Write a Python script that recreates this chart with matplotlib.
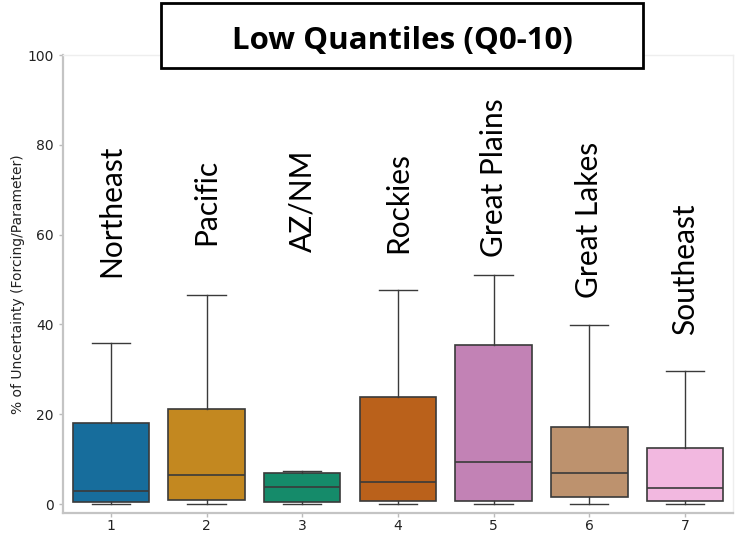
import colorsys

import matplotlib

matplotlib.use("Agg")
import matplotlib.pyplot as plt
from matplotlib.colors import to_rgb
from matplotlib.patches import Rectangle

# Box statistics per region (percent of uncertainty), low quantiles Q0-10
regions = ["Northeast", "Pacific", "AZ/NM", "Rockies", "Great Plains", "Great Lakes", "Southeast"]
whislo = [0.0, 0.0, 0.0, 0.0, 0.0, 0.0, 0.0]
q1 = [0.5, 0.8, 0.5, 0.7, 0.7, 1.6, 0.7]
med = [2.9, 6.4, 3.9, 4.8, 9.3, 7.0, 3.5]
q3 = [18.1, 21.1, 7.0, 23.9, 35.4, 17.1, 12.5]
whishi = [35.9, 46.5, 7.3, 47.7, 51.1, 39.9, 29.7]
# where each rotated region name starts (y, in data units)
label_y = [50.5, 57.7, 56.1, 55.9, 55.0, 45.9, 37.6]

palette = ["#0173b2", "#de8f05", "#029e73", "#d55e00", "#cc78bc", "#ca9161", "#fbafe4"]


def desaturate(color, prop=0.75):
    h, l, s = colorsys.rgb_to_hls(*to_rgb(color))
    return colorsys.hls_to_rgb(h, l, s * prop)


stats = [
    dict(whislo=whislo[i], q1=q1[i], med=med[i], q3=q3[i], whishi=whishi[i], fliers=[])
    for i in range(len(regions))
]

fig = plt.figure(figsize=(7.35, 5.34), dpi=100)
ax = fig.add_axes([0.0857, 0.0393, 0.9113, 0.8577])

line_col = "#3a3a3a"
positions = list(range(1, len(regions) + 1))
bp = ax.bxp(
    stats,
    positions=positions,
    widths=0.8,
    patch_artist=True,
    showfliers=False,
    boxprops=dict(edgecolor=line_col, linewidth=1.2),
    medianprops=dict(color=line_col, linewidth=1.2),
    whiskerprops=dict(color=line_col, linewidth=1.0),
    capprops=dict(color=line_col, linewidth=1.0),
    capwidths=0.4,
)
for patch, c in zip(bp["boxes"], palette):
    patch.set_facecolor(desaturate(c))

for x, y, name in zip(positions, label_y, regions):
    ax.text(x, y, name, rotation=90, ha="center", va="bottom",
            fontsize=21.5, family="Lato", color="black")

ax.set_xlim(0.5, 7.5)
ax.set_ylim(-2, 100)
ax.set_xticks(positions)
ax.set_xticklabels([str(p) for p in positions])
ax.set_yticks([0, 20, 40, 60, 80, 100])
ax.tick_params(axis="both", labelsize=10, colors="#bbbbbb", labelcolor="#222222",
               length=3, width=1)
ax.tick_params(axis="x", pad=1.5)
ax.set_ylabel("% of Uncertainty (Forcing/Parameter)", fontsize=10, color="#222222",
              labelpad=2)

for side in ("left", "bottom"):
    ax.spines[side].set_color("#c4c4c4")
    ax.spines[side].set_linewidth(1.6)
for side in ("top", "right"):
    ax.spines[side].set_color("#eeeeee")
    ax.spines[side].set_linewidth(1.0)

# framed title sitting over the top of the axes
fig.patches.append(Rectangle((0.219, 0.8727), 0.656, 0.1217, transform=fig.transFigure,
                             facecolor="white", edgecolor="black", linewidth=2, zorder=5))
fig.text(0.547, 0.924, "Low Quantiles (Q0-10)", ha="center", va="center",
         fontsize=22.5, fontweight="bold", family="Open Sans", zorder=6)

fig.savefig("out.png", dpi=100)
